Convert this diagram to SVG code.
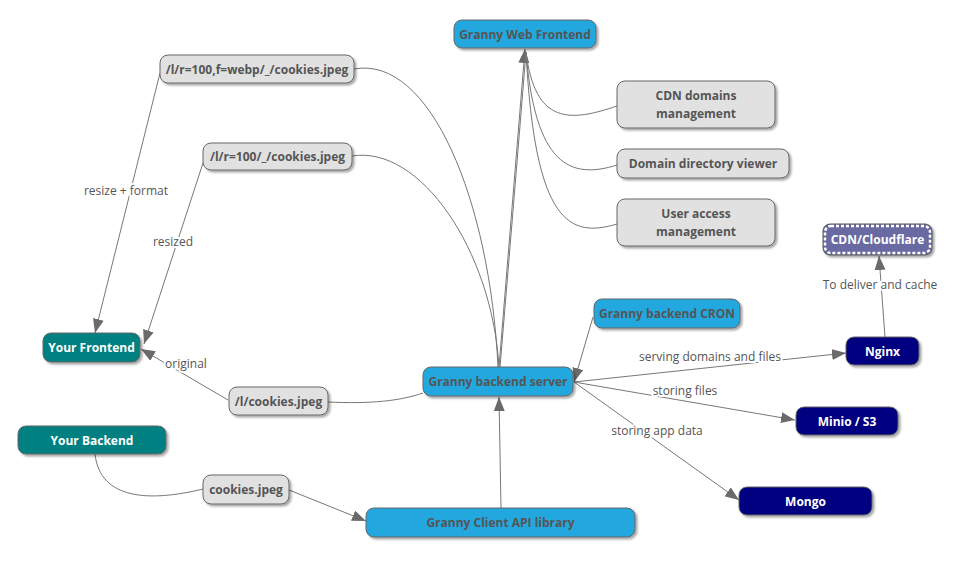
<svg xmlns="http://www.w3.org/2000/svg" width="959" height="566" viewBox="0 0 959 566">
<style>
.n{stroke:#666;stroke-width:1;filter:url(#sh)}
.blue{fill:#22a8df}
.gray{fill:#e1e1e1}
.teal{fill:#008080}
.navy{fill:#000080}
.t{font-family:"Open Sans","DejaVu Sans",sans-serif;font-size:12px;font-weight:bold;text-anchor:middle;fill:#555}
.w{fill:#fff}
.e{fill:none;stroke:#777;stroke-width:1}
.a{marker-end:url(#ar)}
.l{font-family:"Open Sans","DejaVu Sans",sans-serif;font-size:12px;fill:#555;text-anchor:middle;stroke:#fff;stroke-width:4;paint-order:stroke;stroke-linejoin:round}
</style>
<defs>
<filter id="sh" x="-20%" y="-30%" width="140%" height="160%">
<feDropShadow dx="2" dy="2" stdDeviation="1.2" flood-color="#000" flood-opacity="0.35"/>
</filter>
<marker id="ar" viewBox="0 0 14 11" refX="14" refY="5.5" markerWidth="14" markerHeight="11" markerUnits="userSpaceOnUse" orient="auto">
<path d="M0,0 L14,5.5 L0,11 Z" fill="#6a6a6a"/>
</marker>
</defs>
<g id="connectors">
<path class="e" d="M354,69 C430,55 490,200 498,367"/>
<path class="e" d="M352,156 C420,145 492,250 499,367"/>
<path class="e a" d="M499,367 L525,49"/>
<path class="e" d="M500,367 Q514,200 526,52"/>
<path class="e" d="M526,52 C535,125 570,122 617,106"/>
<path class="e" d="M526,52 C535,165 570,180 617,165"/>
<path class="e" d="M526,52 C535,225 570,238 617,224"/>
<path class="e a" d="M160,73 L95,333"/>
<path class="e a" d="M203,163 L144,344"/>
<path class="e a" d="M228,400 L141,349"/>
<path class="e" d="M328,402 C370,404 400,401 423,393"/>
<path class="e a" d="M593,317 L574,382"/>
<path class="e a" d="M574,382 L846,353"/>
<path class="e a" d="M574,382 L795,420"/>
<path class="e a" d="M574,382 L739,500"/>
<path class="e a" d="M885,337 L879,256"/>
<path class="e" d="M95,454 C100,500 150,502 203,489"/>
<path class="e a" d="M289,490 L366,521"/>
<path class="e a" d="M501,508 L499,397"/>
<text class="l" x="126" y="195">resize + format</text>
<text class="l" x="173" y="246">resized</text>
<text class="l" x="186" y="368">original</text>
<text class="l" x="710" y="361">serving domains and files</text>
<text class="l" x="685" y="395">storing files</text>
<text class="l" x="657" y="435">storing app data</text>
<text class="l" x="880" y="289">To deliver and cache</text>
</g>
<g id="granny-web-frontend"><rect class="n blue" x="454" y="20" width="142" height="28" rx="8"/><text class="t" x="525" y="38.5">Granny Web Frontend</text></g>
<g id="webp"><rect class="n gray" x="160" y="55" width="194" height="28" rx="8"/><text class="t" x="257" y="73.5">/l/r=100,f=webp/_/cookies.jpeg</text></g>
<g id="resized"><rect class="n gray" x="203" y="143" width="149" height="27" rx="8"/><text class="t" x="277.5" y="161">/l/r=100/_/cookies.jpeg</text></g>
<g id="cdn-domains"><rect class="n gray" x="617" y="81" width="158" height="47" rx="8"/><text class="t" x="696" y="100">CDN domains</text><text class="t" x="696" y="118">management</text></g>
<g id="domain-viewer"><rect class="n gray" x="617" y="149" width="172" height="29" rx="8"/><text class="t" x="703" y="168">Domain directory viewer</text></g>
<g id="user-access"><rect class="n gray" x="617" y="199" width="158" height="47" rx="8"/><text class="t" x="696" y="218">User access</text><text class="t" x="696" y="236">management</text></g>
<g id="cdn-cloudflare"><rect x="823" y="224" width="109" height="31" rx="7" fill="#6a6aa2" stroke="#555" stroke-width="1" filter="url(#sh)"/><rect x="825" y="226" width="105" height="27" rx="6" fill="none" stroke="#fff" stroke-width="2.5" stroke-dasharray="3 2"/><text class="t w" x="877.5" y="244">CDN/Cloudflare</text></g>
<g id="nginx"><rect class="n navy" x="846" y="337" width="73" height="28" rx="8"/><text class="t w" x="882.5" y="355.5">Nginx</text></g>
<g id="your-frontend"><rect class="n teal" x="43" y="333" width="97" height="29" rx="8"/><text class="t w" x="91.5" y="352">Your Frontend</text></g>
<g id="original"><rect class="n gray" x="229" y="387" width="99" height="28" rx="8"/><text class="t" x="278.5" y="405.5">/l/cookies.jpeg</text></g>
<g id="your-backend"><rect class="n teal" x="18" y="426" width="148" height="28" rx="8"/><text class="t w" x="92" y="444.5">Your Backend</text></g>
<g id="granny-cron"><rect class="n blue" x="594" y="299" width="146" height="29" rx="8"/><text class="t" x="667" y="318">Granny backend CRON</text></g>
<g id="granny-backend-server"><rect class="n blue" x="423" y="367" width="150" height="29" rx="8"/><text class="t" x="498" y="386">Granny backend server</text></g>
<g id="cookies"><rect class="n gray" x="203" y="475" width="86" height="29" rx="8"/><text class="t" x="246" y="494">cookies.jpeg</text></g>
<g id="granny-client-api"><rect class="n blue" x="366" y="508" width="269" height="29" rx="8"/><text class="t" x="500.5" y="527">Granny Client API library</text></g>
<g id="minio"><rect class="n navy" x="796" y="407" width="102" height="28" rx="8"/><text class="t w" x="847" y="425.5">Minio / S3</text></g>
<g id="mongo"><rect class="n navy" x="739" y="487" width="133" height="28" rx="8"/><text class="t w" x="805.5" y="505.5">Mongo</text></g>
</svg>
